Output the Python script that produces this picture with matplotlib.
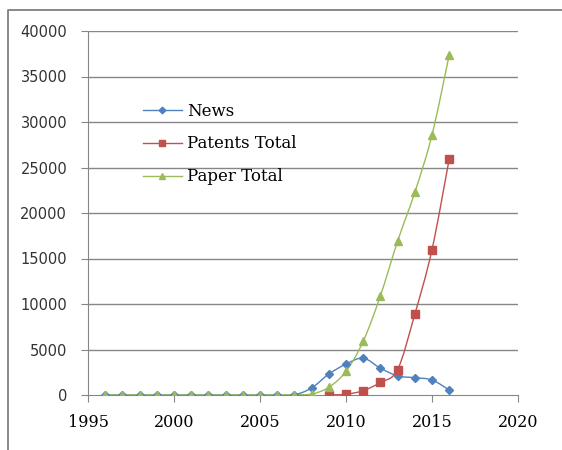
import matplotlib.pyplot as plt
import numpy as np
from matplotlib.path import Path
from matplotlib.patches import PathPatch
from matplotlib.lines import Line2D

# Data per series
years = list(range(1996, 2017))
news = [0, 0, 0, 0, 0, 0, 0, 0, 0, 0, 0, 30, 770, 2300, 3400, 4050, 2950, 2100, 1900, 1650, 550]
patent_years = list(range(2009, 2017))
patents = [10, 80, 480, 1380, 2800, 8880, 15970, 25930]
paper = [0, 0, 0, 0, 0, 0, 0, 0, 0, 0, 0, 40, 100, 850, 2600, 5900, 10900, 16900, 22270, 28570, 37360]

x_ticks = [1995, 2000, 2005, 2010, 2015, 2020]
y_ticks = [0, 5000, 10000, 15000, 20000, 25000, 30000, 35000, 40000]


def smooth_line(ax, xs, ys, color):
    # smoothed line through the points (bezier segments, like a spreadsheet "smooth line")
    p = np.column_stack([xs, ys]).astype(float)
    ext = np.vstack([p[0], p, p[-1]])
    verts = [tuple(p[0])]
    codes = [Path.MOVETO]
    for i in range(len(p) - 1):
        c1 = ext[i + 1] + (ext[i + 2] - ext[i]) / 6.0
        c2 = ext[i + 2] - (ext[i + 3] - ext[i + 1]) / 6.0
        verts += [tuple(c1), tuple(c2), tuple(p[i + 1])]
        codes += [Path.CURVE4, Path.CURVE4, Path.CURVE4]
    ax.add_patch(PathPatch(Path(verts, codes), fill=False, edgecolor=color, lw=1.0, zorder=3))


fig = plt.figure(figsize=(5.62, 4.5), dpi=100)
ax = fig.add_axes([88 / 562, 1 - 395 / 450, 430 / 562, 364 / 450])

series = [
    ("News", years, news, "#4F81BD", "D", 4.5),
    ("Patents Total", patent_years, patents, "#C0504D", "s", 5.5),
    ("Paper Total", years, paper, "#9BBB59", "^", 6),
]

handles = []
for name, xs, ys, col, mk, ms in series:
    smooth_line(ax, xs, ys, col)
    ax.plot(xs, ys, linestyle="none", marker=mk, markersize=ms, color=col, zorder=4)
    handles.append(Line2D([], [], color=col, lw=1.0, marker=mk, markersize=ms * 0.75, label=name))

ax.set_xlim(1995, 2020)
ax.set_ylim(0, 40000)
ax.set_xticks(x_ticks)
ax.set_yticks(y_ticks)

# gridlines and axes
for v in y_ticks[1:]:
    ax.axhline(v, color="#868686", lw=1.0, zorder=1)
for s in ["top", "right"]:
    ax.spines[s].set_visible(False)
ax.spines["left"].set_color("#868686")
ax.spines["bottom"].set_color("#868686")
ax.tick_params(axis="both", direction="out", length=5, color="#868686", width=0.8)
ax.tick_params(axis="y", pad=10)
ax.tick_params(axis="x", pad=9)

for lab in ax.get_yticklabels():
    lab.set_fontfamily("DejaVu Sans")
    lab.set_fontsize(10.5)
    lab.set_color("#333333")
for lab in ax.get_xticklabels():
    lab.set_fontfamily("DejaVu Serif")
    lab.set_fontsize(11.5)
    lab.set_color("black")

leg = ax.legend(handles=handles, loc="upper left", bbox_to_anchor=(48 / 430, (395 - 96) / 364),
                frameon=False, prop={"family": "DejaVu Serif", "size": 12},
                handlelength=2.35, handletextpad=0.3, labelspacing=0.95, borderaxespad=0)

# outer frame (left and top edges)
fig.add_artist(Line2D([8 / 562, 8 / 562, 1.0], [0.0, 1 - 10 / 450, 1 - 10 / 450],
                      transform=fig.transFigure, color="#808080", lw=1.3))

plt.savefig("out.png", dpi=100)
